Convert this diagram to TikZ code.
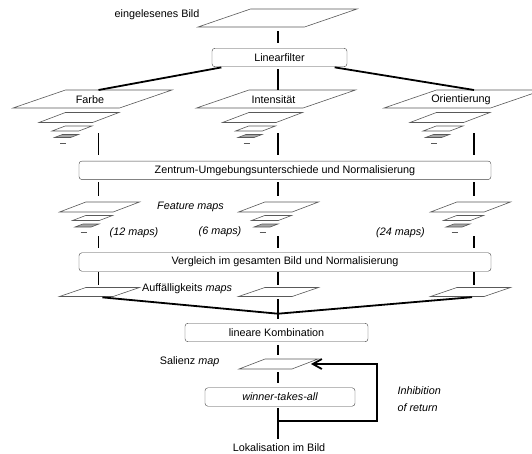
\documentclass[tikz,border=0pt]{standalone}
\usepackage{fontspec}
\setmainfont{Liberation Sans}
\usetikzlibrary{arrows.meta}

% EBENE: [Fuellung] {x-Mitte}{y-Mitte}{Spannweite}{Hoehe}
\newcommand{\ebene}[5][white]{%
	\draw[flaeche,fill=#1] ({#2-#4/2},{#3+#5/2}) -- ++({0.67*#4},0) -- ({#2+#4/2},{#3-#5/2}) -- ++({-0.67*#4},0) -- cycle;}

% PYRAMIDE: {x-Mitte}{y-Mitte}
\newcommand{\pyramide}[2]{%
	\ebene{#1}{#2}{80}{10}
	\ebene{#1-7}{#2+11}{40}{5}
	\ebene[black!35]{#1-12.5}{#2+18.5}{24}{3}
	\draw[flaeche] ({#1-19},{#2+25.5}) -- ({#1-13},{#2+25.5});}

\begin{document}
\begin{tikzpicture}[x=1pt,y=-1pt,font=\fontsize{10.8}{13}\selectfont,
	kasten/.style={draw=black!75,rounded corners=3pt,inner sep=0pt,minimum height=18.5pt},
	verb/.style={line width=1.8pt},
	flaeche/.style={draw=black!65,line width=0.6pt}]

		\useasboundingbox (0,0) rectangle (532,453);

		%EINGABE
		\ebene{277.5}{18}{159}{18}
		\node (bild-txt) at (157,15) {eingelesenes Bild};
		\coordinate (bild-u) at (278,27);

		%KAESTEN
		\node[kasten,minimum width=135pt] (linear) at (279.5,57.5) {Linearfilter};
		\node[kasten,minimum width=412pt] (zentrum) at (285,170.3) {Zentrum-Umgebungsunterschiede und Normalisierung};
		\node[kasten,minimum width=412pt] (vergleich) at (285,262) {Vergleich im gesamten Bild und Normalisierung};
		\node[kasten,minimum width=183pt] (lineare) at (276.5,332.5) {lineare Kombination};
		\node[kasten,minimum width=150pt] (wta) at (280,397) {\itshape winner-takes-all};
		\node (lokal) at (279,447.5) {Lokalisation im Bild};

		\draw[verb,shorten <=4pt,shorten >=5pt] (bild-u) -- (bild-u |- linear.north);

		%BESCHRIFTUNGEN
		\node (fm-txt) at (190.5,207) {\itshape Feature maps};
		\node (n12) at (134,233) {\itshape (12 maps)};
		\node (n6) at (220,232) {\itshape (6 maps)};
		\node (n24) at (400.5,233) {\itshape (24 maps)};
		\node (am-txt) at (187,288.5) {Auff\"alligkeits \textit{maps}};

		%BUCLE KANAELE
		\foreach \n/\x/\e/\fx/\txt in {f/98.5/92.5/99.5/Farbe, i/278/276/278.5/Intensität, o/474/463.5/470.5/Orientierung}{
			%MERKMALE
			\ebene{\e}{99}{159}{18}
			\pyramide{\e-13.5}{117.5}
			\node (\n-name) at (\e-2.5,100) {\txt};
			%FEATURE MAPS
			\pyramide{\fx}{207}
			%AUFFAELLIGKEIT
			\ebene{\fx}{292}{80}{9}
			\coordinate (\n-o) at (\x,90);
			\coordinate (\n-u) at (\x,131);
			\coordinate (\n-fo) at (\x,202);
			\coordinate (\n-fu) at (\x,232);
			\coordinate (\n-ao) at (\x,287);
			\coordinate (\n-au) at (\x,297);
			%VERBINDUNGEN
			\draw[verb,shorten <=2pt,shorten >=6pt] (\n-u) -- (\n-u |- zentrum.north);
			\draw[verb,shorten <=2.5pt,shorten >=6.5pt] (zentrum.south -| \n-fo) -- (\n-fo);
			\draw[verb,shorten <=4pt,shorten >=4.5pt] (\n-fu) -- (\n-fu |- vergleich.north);
			\draw[verb,shorten <=1pt,shorten >=2pt] (vergleich.south -| \n-ao) -- (\n-ao);
		}

		%FILTER
		\draw[verb,shorten <=2.5pt] ([xshift=12pt]linear.south west) -- (f-o);
		\draw[verb,shorten <=2.5pt] (linear.south -| i-o) -- (i-o);
		\draw[verb,shorten <=2.5pt] ([xshift=-15pt]linear.south east) -- (o-o);

		%KOMBINATION
		\coordinate (treff) at (278,313.7);
		\draw[verb,shorten <=4pt] (f-au) -- (treff);
		\draw[verb,shorten <=2pt] (o-au) -- (treff);
		\draw[verb,shorten <=2pt,shorten >=4.5pt] (i-au) -- (i-au |- lineare.north);

		%SALIENZ
		\ebene{278.5}{364}{79}{10}
		\node (sal-txt) at (189.6,362) {Salienz \textit{map}};
		\coordinate (sal-o) at (278,359);
		\coordinate (sal-u) at (278,369);
		\coordinate (sal-r) at (311,364);
		\draw[verb,shorten <=3pt,shorten >=4pt] (lineare.south -| sal-o) -- (sal-o);
		\draw[verb,shorten <=3pt,shorten >=5pt] (sal-u) -- (sal-u |- wta.north);
		\draw[verb,shorten <=2pt,shorten >=1pt] (wta.south -| sal-u) -- (sal-u |- lokal.north);

		%INHIBITION
		\coordinate (knick) at (278,421);
		\coordinate (rueck) at (377,364);
		\draw[verb,-{Straight Barb[length=9pt,width=10pt]}] (knick) -| (rueck) -- (sal-r);
		\node[anchor=west,align=left,font=\fontsize{10.8}{17}\itshape] (inhib) at (394,399.5) {Inhibition\\of return};
	\end{tikzpicture}
\end{document}
